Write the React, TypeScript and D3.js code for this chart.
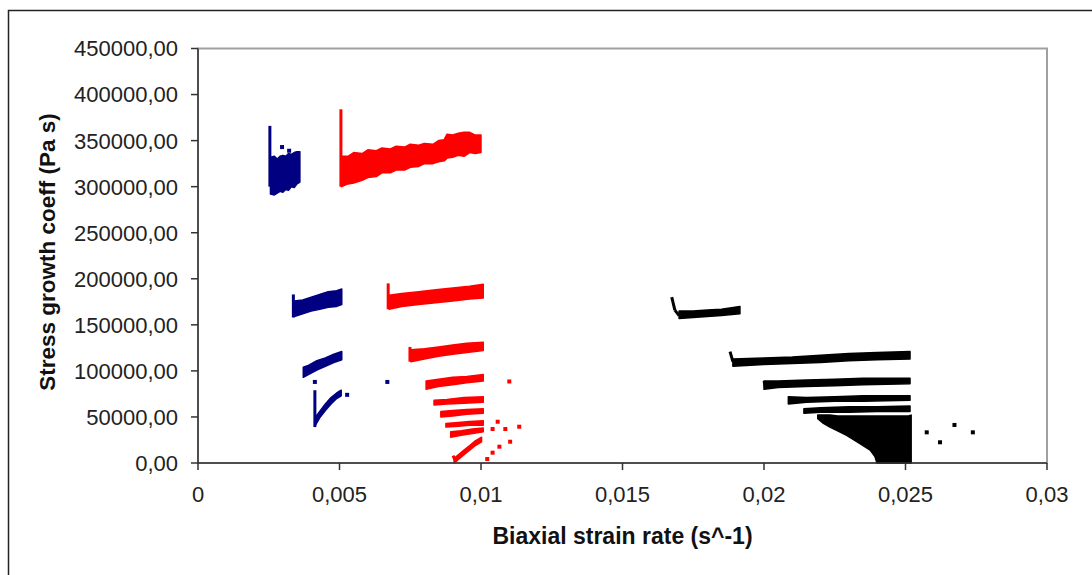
import React from "react";
import * as d3 from "d3";

// ---- Data ----
// Axis ticks
const xTicks = [0, 0.005, 0.01, 0.015, 0.02, 0.025, 0.03];
const xTickLabels = ["0", "0,005", "0,01", "0,015", "0,02", "0,025", "0,03"];
const yTicks = [0, 50000, 100000, 150000, 200000, 250000, 300000, 350000, 400000, 450000];
const yTickLabels = ["0,00", "50000,00", "100000,00", "150000,00", "200000,00", "250000,00", "300000,00", "350000,00", "400000,00", "450000,00"];

// Bands: each point is [strain rate, lower stress coeff, upper stress coeff]
type B = [number, number, number][];
const blueBand1: B = [[0.00256, 292000, 332000], [0.0027, 291000, 333000], [0.0028, 293000, 330000], [0.0029, 295000, 333000], [0.003, 294000, 334000], [0.0031, 297000, 333000], [0.0032, 296000, 336000], [0.0033, 300000, 335000], [0.0034, 299000, 337000], [0.0035, 303000, 338000], [0.0036, 305000, 338000]];
const blueBand2: B = [[0.0034, 159000, 176000], [0.0037, 162000, 177000], [0.004, 165000, 180000], [0.0043, 167000, 183000], [0.0046, 169000, 186000], [0.0049, 170000, 187000], [0.00508, 172000, 189000]];
const blueBand3: B = [[0.00372, 93000, 104000], [0.0039, 96000, 106000], [0.0042, 101000, 111000], [0.0045, 105000, 114000], [0.0048, 109000, 118000], [0.00508, 112000, 121000]];
const blueBand4: B = [[0.00413, 40000, 49000], [0.0043, 49000, 56000], [0.0045, 57000, 64000], [0.0047, 64000, 71000], [0.0049, 70000, 76000], [0.00506, 73000, 79000]];

const redBand1: B = [[0.00507, 300000, 333000], [0.0053, 303000, 333000], [0.0055, 304000, 337000], [0.0058, 307000, 336000], [0.006, 310000, 340000], [0.0063, 311000, 339000], [0.0065, 315000, 342000], [0.0068, 315000, 341000], [0.007, 318000, 344000], [0.0073, 318000, 343000], [0.0075, 321000, 346000], [0.0078, 322000, 345000], [0.008, 325000, 347000], [0.0083, 325000, 346000], [0.0085, 327000, 350000], [0.0087, 328000, 351000], [0.0088, 331000, 357000], [0.009, 332000, 356000], [0.0092, 334000, 358000], [0.0094, 333000, 359000], [0.0096, 337000, 359000], [0.0098, 336000, 356000], [0.01, 337000, 356000]];
const redBand2: B = [[0.00675, 167000, 182000], [0.0072, 170000, 184000], [0.0078, 172000, 186000], [0.0084, 174000, 188000], [0.009, 176000, 190000], [0.0096, 178000, 192000], [0.01008, 179000, 194000]];
const redBand3: B = [[0.00752, 110000, 123000], [0.008, 113000, 124000], [0.0085, 116000, 126000], [0.009, 118000, 128000], [0.0095, 120000, 130000], [0.01008, 122000, 131000]];
const redBand4: B = [[0.00806, 80000, 89000], [0.0085, 83000, 91000], [0.009, 85000, 93000], [0.0095, 87000, 94000], [0.01008, 89000, 96000]];
const redBand5: B = [[0.00834, 63000, 68000], [0.0088, 64000, 69000], [0.0094, 65000, 71000], [0.01008, 66000, 72000]];
const redBand6: B = [[0.00858, 50000, 56000], [0.009, 51000, 57000], [0.0095, 53000, 58000], [0.01008, 54000, 59000]];
const redBand7: B = [[0.00876, 39000, 43000], [0.0092, 40000, 44000], [0.0096, 41000, 45000], [0.01008, 41000, 46000]];
const redBand8: B = [[0.00893, 28000, 34000], [0.0093, 30000, 35000], [0.0097, 32000, 37000], [0.01008, 34000, 38000]];
const redBand9: B = [[0.00905, 0, 5000], [0.0092, 4000, 9000], [0.0094, 9000, 14000], [0.0096, 14000, 19000], [0.0098, 19000, 24000], [0.01002, 23000, 28000]];

const blackBand1: B = [[0.017, 157000, 165000], [0.0175, 158000, 165000], [0.018, 159000, 166000], [0.0185, 160000, 167000], [0.01915, 162000, 170000]];
const blackBand2: B = [[0.0189, 105000, 113000], [0.02, 107000, 114000], [0.021, 108000, 115000], [0.022, 109000, 117000], [0.023, 111000, 119000], [0.024, 112000, 120000], [0.02516, 113000, 121000]];
const blackBand3: B = [[0.02, 80000, 89000], [0.0205, 82000, 89000], [0.0215, 83000, 90000], [0.0225, 84000, 91000], [0.0235, 85000, 92000], [0.02516, 86000, 92000]];
const blackBand4: B = [[0.02086, 64000, 72000], [0.0215, 66000, 71000], [0.0225, 67000, 72000], [0.0235, 67000, 73000], [0.02516, 68000, 73000]];
const blackBand5: B = [[0.02141, 54000, 59000], [0.022, 55000, 60000], [0.023, 55000, 61000], [0.024, 56000, 61000], [0.02516, 56000, 62000]];
const blackBand6: B = [[0.0219, 48000, 52000], [0.0221, 43000, 52000], [0.02233, 39000, 52000], [0.0226, 35000, 51000], [0.02292, 30000, 51000], [0.02339, 21000, 51000], [0.02375, 14000, 51000], [0.02392, 7000, 51000], [0.02398, 1000, 51000], [0.024, 0, 51000], [0.0251, 0, 51000], [0.0252, 0, 52000]];

// Start-up transients: [x1, y1, x2, y2]
type S = [number, number, number, number][];
const blueSpikes: S = [[0.00254, 300000, 0.00254, 366000], [0.00337, 158000, 0.00337, 183000], [0.00413, 39000, 0.00413, 79000]];
const redSpikes: S = [[0.00505, 300000, 0.00505, 384000], [0.00672, 167000, 0.00672, 195000], [0.00749, 110000, 0.00749, 126000], [0.00901, 8000, 0.00912, 1000]];
const blackSpikes: S = [[0.01674, 180000, 0.01685, 166000], [0.01685, 166000, 0.017, 160000], [0.0188, 121000, 0.0189, 110000], [0.02, 89000, 0.02005, 82000]];

// Isolated points: [x, y]
const blueDots: [number, number][] = [[0.00297, 343000], [0.00322, 339000], [0.00413, 88000], [0.00669, 88000], [0.00527, 74000]];
const redDots: [number, number][] = [[0.011, 88500], [0.01059, 44800], [0.01041, 36900], [0.01086, 36900], [0.01135, 39400], [0.01103, 23100], [0.01065, 17700], [0.01041, 11200], [0.01022, 4300]];
const blackDots: [number, number][] = [[0.02575, 33300], [0.02673, 41300], [0.02622, 22500], [0.02738, 33300]];

const BLUE = "#000080";
const RED = "#ff0000";
const BLACK = "#000000";

const series = [
  { color: BLUE, bands: [blueBand1, blueBand2, blueBand3, blueBand4], spikes: blueSpikes, dots: blueDots },
  { color: RED, bands: [redBand1, redBand2, redBand3, redBand4, redBand5, redBand6, redBand7, redBand8, redBand9], spikes: redSpikes, dots: redDots },
  { color: BLACK, bands: [blackBand1, blackBand2, blackBand3, blackBand4, blackBand5, blackBand6], spikes: blackSpikes, dots: blackDots },
];

export default function App() {
  const W = 1092, H = 575;
  const left = 198, right = 1047, top = 48.5, bottom = 463;
  const x = d3.scaleLinear().domain([0, 0.03]).range([left, right]);
  const y = d3.scaleLinear().domain([0, 450000]).range([bottom, top]);
  const area = d3.area<[number, number, number]>()
    .x((d) => x(d[0]))
    .y0((d) => y(d[1]))
    .y1((d) => y(d[2]));
  const font = "'Liberation Sans', Arial, sans-serif";

  return (
    <svg width={W} height={H} style={{ position: "absolute", left: 0, top: 0, background: "#fff" }}>
      <rect x={0} y={0} width={W} height={H} fill="#fff" />
      <rect x={8.5} y={10.5} width={1200} height={700} fill="none" stroke="#222" strokeWidth={1.5} />
      {/* plot area border */}
      <rect x={left} y={top} width={right - left} height={bottom - top} fill="none" stroke="#a0a0a0" strokeWidth={2} />

      {/* data */}
      <g>
        {series.map((s, si) => (
          <g key={si}>
            {s.bands.map((b, bi) => (
              <path key={bi} d={area(b) || ""} fill={s.color} stroke={s.color} strokeWidth={1.5} strokeLinejoin="round" />
            ))}
            {s.spikes.map((sp, i) => (
              <line key={i} x1={x(sp[0])} y1={y(sp[1])} x2={x(sp[2])} y2={y(sp[3])} stroke={s.color} strokeWidth={3} />
            ))}
            {s.dots.map((p, i) => (
              <rect key={i} x={x(p[0]) - 2} y={y(p[1]) - 2} width={4} height={4} fill={s.color} />
            ))}
          </g>
        ))}
      </g>

      {/* axes */}
      <line x1={left} y1={top} x2={left} y2={bottom} stroke="#333" strokeWidth={1.5} />
      <line x1={left} y1={bottom} x2={right} y2={bottom} stroke="#333" strokeWidth={1.5} />
      {yTicks.map((t, i) => (
        <g key={i}>
          <line x1={left - 7} x2={left} y1={y(t)} y2={y(t)} stroke="#333" strokeWidth={1.5} />
          <text x={178} y={y(t)} dy="0.36em" textAnchor="end" fontFamily={font} fontSize={22} fill="#222">{yTickLabels[i]}</text>
        </g>
      ))}
      {xTicks.map((t, i) => (
        <g key={i}>
          <line x1={x(t)} x2={x(t)} y1={bottom} y2={bottom + 7} stroke="#333" strokeWidth={1.5} />
          <text x={x(t)} y={502} textAnchor="middle" fontFamily={font} fontSize={22} fill="#222">{xTickLabels[i]}</text>
        </g>
      ))}
      <text x={(left + right) / 2} y={544} textAnchor="middle" fontFamily={font} fontWeight="bold" fontSize={23} fill="#111">Biaxial strain rate (s^-1)</text>
      <text transform={`translate(55,252) rotate(-90)`} textAnchor="middle" fontFamily={font} fontWeight="bold" fontSize={22.5} fill="#111">Stress growth coeff (Pa s)</text>
    </svg>
  );
}
